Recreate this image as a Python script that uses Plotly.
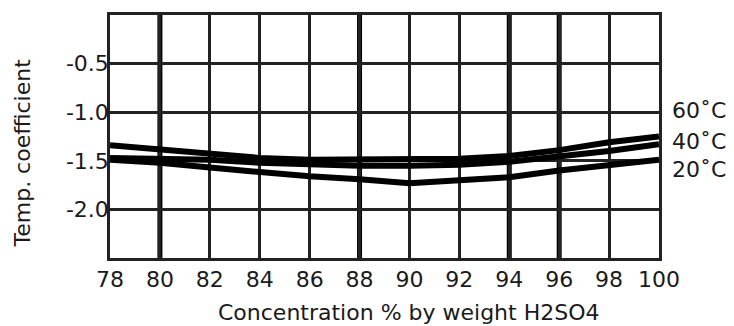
import plotly.graph_objects as go

concentration = [78, 80, 82, 84, 86, 88, 90, 92, 94, 96, 98, 100]
coef_60C = [-1.34, -1.38, -1.43, -1.47, -1.49, -1.49, -1.49, -1.48, -1.45, -1.39, -1.31, -1.25]
coef_40C = [-1.47, -1.48, -1.49, -1.52, -1.54, -1.55, -1.55, -1.54, -1.51, -1.46, -1.40, -1.33]
coef_20C = [-1.49, -1.52, -1.57, -1.62, -1.66, -1.69, -1.73, -1.70, -1.67, -1.60, -1.55, -1.49]
series_labels = ["60˚C", "40˚C", "20˚C"]
label_y = [-0.985, -1.305, -1.59]
x_ticks = [78, 80, 82, 84, 86, 88, 90, 92, 94, 96, 98, 100]
y_ticks = [-0.5, -1.0, -1.5, -2.0]
heavy_grid_x = [80, 88, 94, 96]
x_title = "Concentration % by weight H2SO4"
y_title = "Temp. coefficient"

FONT = "DejaVu Sans"
INK = "#1a1a1a"

fig = go.Figure()
for ys in (coef_60C, coef_40C, coef_20C):
    fig.add_trace(go.Scatter(x=concentration, y=ys, mode="lines",
                             line=dict(color="#000000", width=6),
                             showlegend=False, hoverinfo="skip"))

for xv in heavy_grid_x:
    fig.add_shape(type="line", xref="x", yref="paper", x0=xv, x1=xv, y0=0, y1=1,
                  line=dict(color="#000000", width=5), layer="below")

for txt, yv in zip(series_labels, label_y):
    fig.add_annotation(text=txt, xref="paper", yref="y", x=1, y=yv,
                       xanchor="left", yanchor="middle", xshift=11,
                       showarrow=False, font=dict(family=FONT, size=22, color=INK))

fig.add_annotation(text=x_title, xref="paper", yref="paper", x=0.5, y=0,
                   xanchor="center", yanchor="middle", xshift=24, yshift=-54,
                   showarrow=False, font=dict(family=FONT, size=22, color=INK))
fig.add_annotation(text=y_title, xref="paper", yref="paper", x=0, y=0.5,
                   xanchor="center", yanchor="middle", xshift=-88, yshift=-17,
                   textangle=-90, showarrow=False,
                   font=dict(family=FONT, size=22, color=INK))

fig.update_layout(
    width=734, height=326,
    margin=dict(l=110, r=75, t=12, b=68),
    paper_bgcolor="white", plot_bgcolor="white",
    font=dict(family=FONT, size=22, color=INK),
    xaxis=dict(range=[78, 100], tickvals=x_ticks, ticktext=[str(v) for v in x_ticks],
               showgrid=True, gridcolor="#222222", gridwidth=2.5,
               showline=True, linecolor="#222222", linewidth=2.5, mirror=True,
               ticks="", ticklabelstandoff=0, zeroline=False),
    yaxis=dict(range=[-2.5, 0], tickvals=y_ticks, ticktext=["-0.5", "-1.0", "-1.5", "-2.0"],
               showgrid=True, gridcolor="#222222", gridwidth=2.5,
               showline=True, linecolor="#222222", linewidth=2.5, mirror=True,
               ticks="", ticklabelstandoff=-6, zeroline=False),
)

fig.write_html("out.html")
